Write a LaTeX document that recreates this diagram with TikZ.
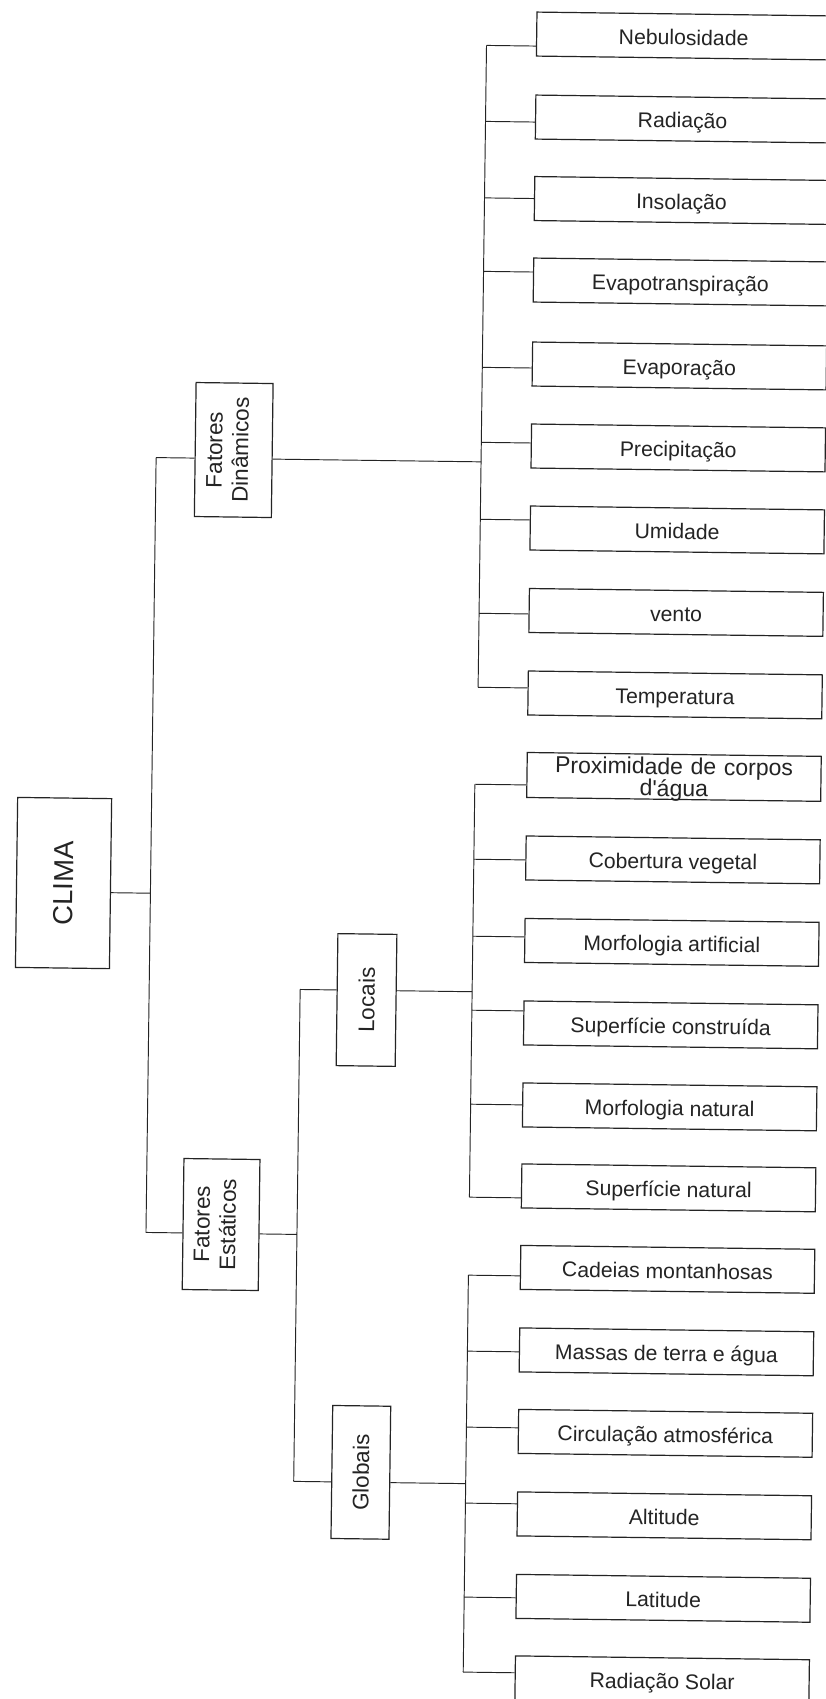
\documentclass[tikz,border=0pt]{standalone}
\usepackage{fontspec}
\setmainfont{Liberation Sans}[Ligatures=TeXOff]
\definecolor{ink}{RGB}{36,36,36}
\begin{document}
\begin{tikzpicture}[x=1pt,y=-1pt,
  box/.style={draw=ink, line width=1.2pt, inner sep=0pt, text=ink},
  leaf/.style={box, minimum width=294pt, minimum height=44pt,
    font=\fontsize{21.2}{21.2}\selectfont, text height=20pt, text depth=2pt},
  upright/.style={box, rotate=90},
  group/.style={upright, font=\fontsize{22.5}{26}\selectfont},
  twoline/.style={group, text height=27.5pt, text depth=24.5pt},
  link/.style={draw=ink, line width=0.95pt}]
\useasboundingbox (0,0) rectangle (826,1699);
\fill[white] (0,0) rectangle (826,1699);
\begin{scope}[rotate around={-0.75:(413,850)}, transform shape]

% root and first level
\node[upright, minimum width=170pt, minimum height=94pt,
      font=\fontsize{27.5}{30}\selectfont] (clima) at (64,887.6) {CLIMA};
\node[twoline, minimum width=134pt, minimum height=77pt] (fdin) at (228.5,452.4)
  {\begin{tabular}{@{}c@{}}Fatores\\Dinâmicos\end{tabular}};
\node[twoline, minimum width=131pt, minimum height=76pt] (fest) at (226,1227)
  {\begin{tabular}{@{}c@{}}Fatores\\Estáticos\end{tabular}};

% second level of the static factors
\node[group, minimum width=132pt, minimum height=59pt] (locais) at (368.5,1000.6) {Locais};
\node[group, minimum width=133pt, minimum height=58pt] (globais) at (369,1473) {Globais};

% dynamic factors
\node[leaf] (n0) at (673,32.5) {Nebulosidade};
\node[leaf] (n1) at (673,115.5) {Radiação};
\node[leaf] (n2) at (673,197) {Insolação};
\node[leaf] (n3) at (673,278.5) {Evapotranspiração};
\node[leaf] (n4) at (673,362.5) {Evaporação};
\node[leaf] (n5) at (673,444.5) {Precipitação};
\node[leaf] (n6) at (673,526.5) {Umidade};
\node[leaf] (n7) at (673,609) {vento};
\node[leaf] (n8) at (673,691.5) {Temperatura};

% local factors
\node[leaf, font=\fontsize{23}{22}\selectfont, text width=294pt, align=center,
      text height=20pt, text depth=25pt] (n9) at (673,773.5)
  {Proximidade de corpos\\d'água};
\node[leaf] (n10) at (673,856.5) {Cobertura vegetal};
\node[leaf] (n11) at (673,939) {Morfologia artificial};
\node[leaf] (n12) at (673,1021.5) {Superfície construída};
\node[leaf] (n13) at (673,1103.5) {Morfologia natural};
\node[leaf] (n14) at (673,1184.5) {Superfície natural};

% global factors
\node[leaf] (n15) at (673,1266) {Cadeias montanhosas};
\node[leaf] (n16) at (673,1348.5) {Massas de terra e água};
\node[leaf] (n17) at (673,1430) {Circulação atmosférica};
\node[leaf] (n18) at (673,1512.5) {Altitude};
\node[leaf] (n19) at (673,1595) {Latitude};
\node[leaf] (n20) at (673,1676.5) {Radiação Solar};

% joints on the three right-hand buses
\foreach \i/\y in {0/44.5,1/120.5,2/197,3/270.5,4/366.5,5/441.5,6/518.5,7/612.5,8/686.5}
  \coordinate (b\i) at (476,\y);
\foreach \i/\y in {9/783.5,10/858.5,11/935.5,12/1009.5,13/1103.5,14/1196.5}
  \coordinate (b\i) at (474,\y);
\foreach \i/\y in {15/1274.5,16/1350.5,17/1426.5,18/1502.5,19/1596.5,20/1671.5}
  \coordinate (b\i) at (474,\y);

\foreach \i in {0,...,20}
  \draw[link] (b\i) -- (b\i -| n\i.west);
\draw[link] (b0) -- (b8);
\draw[link] (b9) -- (b14);
\draw[link] (b15) -- (b20);

% main bus from CLIMA
\coordinate (m0) at (151,896.7);
\coordinate (m1) at (151,461);
\coordinate (m2) at (151,1236);
\draw[link] (m1) -- (m2);
\draw[link] (m0 -| clima.south) -- (m0);
\draw[link] (m1) -- (m1 -| fdin.north);
\draw[link] (m2) -- (m2 -| fest.north);

% dynamic factors to their bus
\coordinate (d0) at (476,461);
\draw[link] (d0 -| fdin.south) -- (d0);

% static factors split into local and global
\coordinate (s0) at (302,1236);
\coordinate (s1) at (302,991);
\coordinate (s2) at (302,1483);
\draw[link] (s0 -| fest.south) -- (s0);
\draw[link] (s1) -- (s2);
\draw[link] (s1) -- (s1 -| locais.north);
\draw[link] (s2) -- (s2 -| globais.north);
\coordinate (l0) at (474,991);
\draw[link] (l0 -| locais.south) -- (l0);
\coordinate (g0) at (474,1483);
\draw[link] (g0 -| globais.south) -- (g0);

\end{scope}
\end{tikzpicture}
\end{document}
